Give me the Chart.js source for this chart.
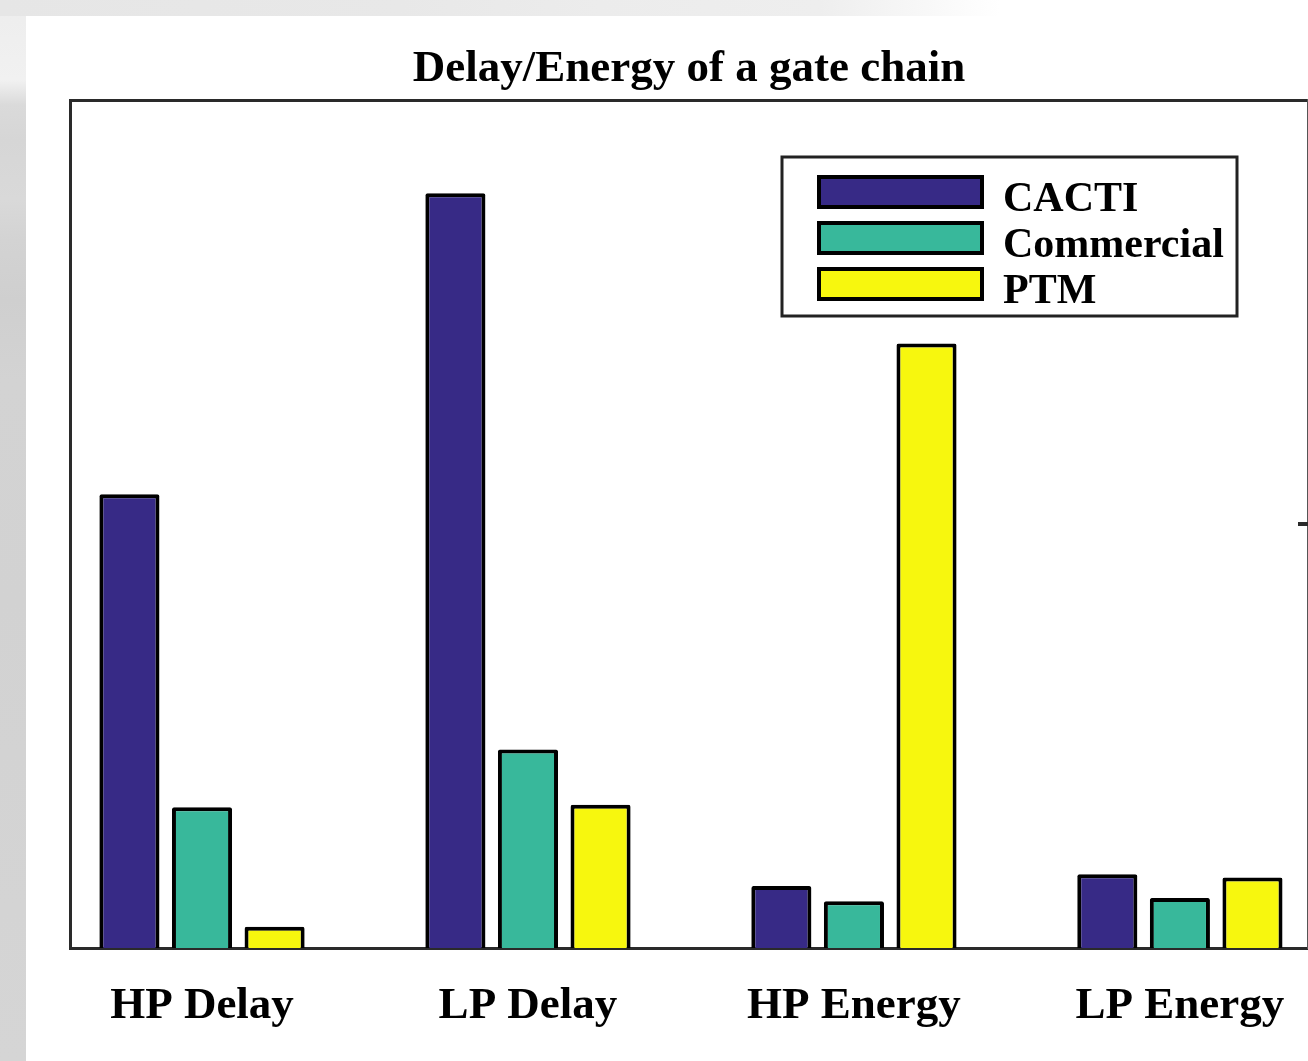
<!DOCTYPE html>
<html>
<head>
<meta charset="utf-8">
<title>Delay/Energy of a gate chain</title>
<script src="https://cdn.jsdelivr.net/npm/chart.js@4/dist/chart.umd.min.js"></script>
<style>
  html, body { margin: 0; padding: 0; width: 1308px; height: 1061px; overflow: hidden; background: #ffffff; }
  #leftStrip {
    position: absolute; left: 0; top: 0; width: 26px; height: 1061px;
    background: linear-gradient(to bottom, #ededed 0px, #f1f1f1 80px, #dadada 105px, #d6d6d6 140px,
      #d9d9d9 200px, #d3d3d3 240px, #cfcfcf 300px, #d3d3d3 380px, #d2d2d2 600px, #d5d5d5 1061px);
  }
  #topStrip {
    position: absolute; left: 0; top: 0; width: 1000px; height: 16px;
    background: linear-gradient(to right, #e6e6e6 0px, #e8e8e8 400px, #ececec 600px, #eeeeee 820px, #ffffff 1000px);
  }
  #wrap { position: absolute; left: 26px; top: 16px; width: 1282px; height: 1048px; background: #ffffff; }
</style>
</head>
<body>
<div id="leftStrip"></div>
<div id="topStrip"></div>
<div id="wrap"><canvas id="chart" width="1282" height="1048"></canvas></div>
<script>
// Category names along the x axis
const categories = ['HP Delay', 'LP Delay', 'HP Energy', 'LP Energy'];
// Relative values (0..1 axis) per model
const cactiValues      = [0.535, 0.890, 0.073, 0.087];
const commercialValues = [0.166, 0.234, 0.055, 0.059];
const ptmValues        = [0.025, 0.169, 0.713, 0.083];
const seriesNames = ['CACTI', 'Commercial', 'PTM'];
const seriesColors = ['#372a86', '#38b89b', '#f7f70e'];

const SERIF = '"Liberation Serif", "Times New Roman", Times, serif';

function toPoints(values) {
  return values.map((v, i) => ({ x: i + 1, y: v }));
}

const datasets = [cactiValues, commercialValues, ptmValues].map((vals, i) => ({
  label: seriesNames[i],
  data: toPoints(vals),
  backgroundColor: seriesColors[i],
  borderColor: '#000000',
  borderWidth: 4,
  borderRadius: 2,
  borderSkipped: 'start',
  categoryPercentage: 0.668,
  barPercentage: 0.828,
  xAxisID: 'x',
  yAxisID: 'y'
}));

// Let the plot run to the canvas edges; labels may overhang freely
function noEdgePadding(scale) {
  scale.paddingLeft = 0;
  scale.paddingRight = 0;
}

// Boxed legend inside the plot, plus the inward tick on the right axis
const framePlugin = {
  id: 'frameAndLegend',
  afterDraw(chart) {
    const ctx = chart.ctx;
    const area = chart.chartArea;

    // right-axis tick pointing into the plot
    const yr = chart.scales.yRight;
    const ty = Math.round(yr.getPixelForValue(0.5));
    ctx.save();
    ctx.strokeStyle = '#2a2a2a';
    ctx.lineWidth = 4;
    ctx.beginPath();
    ctx.moveTo(area.right - 10, ty);
    ctx.lineTo(area.right, ty);
    ctx.stroke();
    ctx.restore();

    // legend frame
    const fx = area.right - 526;
    const fy = area.top + 57;
    const fw = 455;
    const fh = 159;
    ctx.save();
    ctx.fillStyle = '#ffffff';
    ctx.fillRect(fx, fy, fw, fh);
    ctx.strokeStyle = '#222222';
    ctx.lineWidth = 3;
    ctx.strokeRect(fx, fy, fw, fh);

    ctx.font = 'bold 42px ' + SERIF;
    ctx.textBaseline = 'alphabetic';
    ctx.textAlign = 'left';
    chart.data.datasets.forEach((ds, i) => {
      const sx = fx + 35;
      const sy = fy + 18 + i * 46;
      const sw = 167;
      const sh = 34;
      ctx.fillStyle = ds.backgroundColor;
      ctx.fillRect(sx, sy, sw, sh);
      ctx.strokeStyle = '#000000';
      ctx.lineWidth = 4;
      ctx.strokeRect(sx + 2, sy + 2, sw - 4, sh - 4);
      ctx.fillStyle = '#000000';
      ctx.fillText(ds.label, fx + 221, sy + sh + 2);
    });
    ctx.restore();
  }
};

new Chart(document.getElementById('chart'), {
  type: 'bar',
  data: { datasets },
  options: {
    responsive: false,
    animation: false,
    layout: { padding: { left: 44, right: 0, top: 26, bottom: 0 } },
    plugins: {
      legend: { display: false },
      tooltip: { enabled: false },
      title: {
        display: true,
        text: 'Delay/Energy of a gate chain',
        color: '#000000',
        font: { family: SERIF, size: 45, weight: 'bold' },
        padding: { top: 0, bottom: 4 }
      }
    },
    scales: {
      x: {
        type: 'linear',
        position: 'bottom',
        offset: false,
        min: 0.595,
        max: 4.393,
        grid: { display: false, drawTicks: false, offset: false },
        border: { display: true, width: 3, color: '#2a2a2a' },
        afterBuildTicks(scale) {
          scale.ticks = categories.map((_, i) => ({ value: i + 1 }));
        },
        afterFit: noEdgePadding,
        ticks: {
          autoSkip: false,
          maxRotation: 0,
          padding: 31,
          color: '#000000',
          font: { family: SERIF, size: 45, weight: 'bold' },
          callback: (value) => categories[Math.round(value) - 1] || ''
        }
      },
      xTop: {
        type: 'linear',
        position: 'top',
        offset: false,
        min: 0.595,
        max: 4.393,
        grid: { display: false, drawTicks: false },
        border: { display: true, width: 3, color: '#2a2a2a' },
        afterFit: noEdgePadding,
        ticks: { display: false }
      },
      y: {
        type: 'linear',
        position: 'left',
        min: 0,
        max: 1,
        grid: { display: false, drawTicks: false },
        border: { display: true, width: 3, color: '#2a2a2a' },
        ticks: { display: false }
      },
      yRight: {
        type: 'linear',
        position: 'right',
        min: 0,
        max: 1,
        grid: { display: false, drawTicks: false },
        border: { display: true, width: 2, color: '#555555' },
        ticks: { display: false }
      }
    }
  },
  plugins: [framePlugin]
});
</script>
</body>
</html>
